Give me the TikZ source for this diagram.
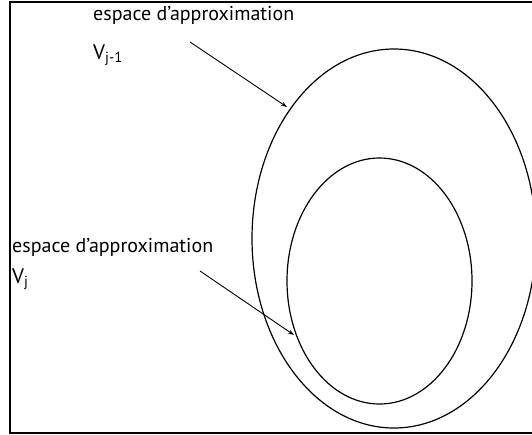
\documentclass[tikz,border=0pt]{standalone}
\usepackage{fontspec}
\setmainfont{PT Sans}
\usetikzlibrary{arrows.meta,shapes.geometric}
\begin{document}
\begin{tikzpicture}[x=1pt,y=-1pt,
  lbl/.style={inner sep=0pt, anchor=base west, font=\fontsize{20}{23}\selectfont},
  vlbl/.style={inner sep=0pt, anchor=base west, font=\fontsize{21}{24}\selectfont},
  arr/.style={-{Stealth[length=6pt,width=4pt]}, line width=0.9pt},
  ell/.style={draw, ellipse, inner sep=0pt, line width=1.2pt}]
\useasboundingbox (0,0) rectangle (532,434);
\clip (0,0) rectangle (532,434);
\draw[line width=2pt] (10,1.5) rectangle (545,432.5);
\node[ell, minimum width=284pt, minimum height=379pt] (outer) at (394,238.5) {};
\node[ell, minimum width=185pt, minimum height=246pt] (inner) at (379.5,281) {};
\node[lbl] (t1) at (93,20) {espace d’approximation};
\node[vlbl] (v1) at (93,59) {V\textsubscript{j-1}};
\node[lbl] (t2) at (12,252) {espace d’approximation};
\node[vlbl] (v2) at (12,283) {V\textsubscript{j}};
\coordinate (s1) at (190,42);
\coordinate (e1) at (287,107);
\coordinate (s2) at (200,271);
\coordinate (e2) at (294,335);
\draw[arr] (s1) -- (e1);
\draw[arr] (s2) -- (e2);
\end{tikzpicture}
\end{document}
